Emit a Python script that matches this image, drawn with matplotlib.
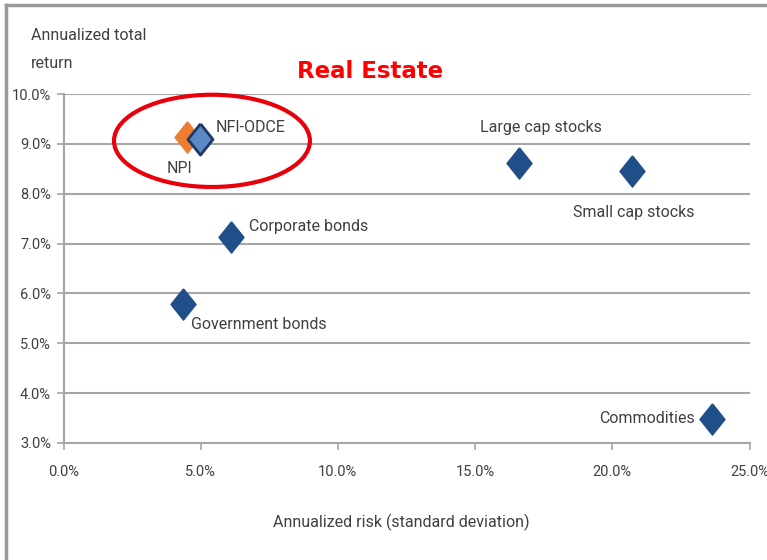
import matplotlib
matplotlib.use("Agg")
import matplotlib.pyplot as plt
from matplotlib.patches import Ellipse
from matplotlib.lines import Line2D
from matplotlib.ticker import FuncFormatter

# data (annualized risk %, annualized return %)
names = ['NPI', 'NFI-ODCE', 'Large cap stocks', 'Small cap stocks',
         'Corporate bonds', 'Government bonds', 'Commodities']
risk = [4.50, 4.97, 16.60, 20.70, 6.10, 4.35, 23.65]
ret = [9.14, 9.10, 8.62, 8.46, 7.13, 5.79, 3.48]
x_ticks = [0, 5, 10, 15, 20, 25]
y_ticks = [3, 4, 5, 6, 7, 8, 9, 10]

FONT = ['Roboto', 'DejaVu Sans']
TXT = '#404040'
GRID = '#a6a6a6'
LBL = 11.5

fig = plt.figure(figsize=(7.67, 5.60), dpi=100)
W, H = 767, 560
ax = fig.add_axes([63.5 / W, 1 - 443 / H, (749.5 - 63.5) / W, (443 - 94) / H])

# diamond a bit taller than wide
diamond = [(0, 1), (0.8, 0), (0, -1), (-0.8, 0), (0, 1)]

# marker styles per point
face = {'NPI': '#ed7d31', 'NFI-ODCE': '#5a8ac6'}
edge = {'NPI': '#ed7d31', 'NFI-ODCE': '#1f3864'}
for n, x, y in zip(names, risk, ret):
    ax.plot(x, y, marker=diamond, markersize=22.5,
            markerfacecolor=face.get(n, '#1f4e89'),
            markeredgecolor=edge.get(n, '#1f4e89'),
            markeredgewidth=2 if n == 'NFI-ODCE' else 1,
            linestyle='none', zorder=3, clip_on=False)

# label offsets (pixels) and alignment
lab = {
    'NPI': (-7, -32, 'center'),
    'NFI-ODCE': (16, 11, 'left'),
    'Large cap stocks': (22, 35, 'center'),
    'Small cap stocks': (2, -42, 'center'),
    'Corporate bonds': (18, 11, 'left'),
    'Government bonds': (8, -21, 'left'),
    'Commodities': (-18, 1, 'right'),
}
for n, x, y in zip(names, risk, ret):
    dx, dy, ha = lab[n]
    ax.annotate(n, (x, y), xytext=(dx, dy), textcoords='offset pixels',
                ha=ha, va='center', fontsize=LBL, color=TXT, family=FONT)

ax.set_xlim(0, 25)
ax.set_ylim(3, 10)
ax.set_xticks(x_ticks)
ax.set_yticks(y_ticks)
ax.xaxis.set_major_formatter(FuncFormatter(lambda v, p: f'{v:.1f}%'))
ax.yaxis.set_major_formatter(FuncFormatter(lambda v, p: f'{v:.1f}%'))
ax.grid(axis='y', color=GRID, linewidth=1.5)
ax.set_axisbelow(True)
for s in ['top', 'right']:
    ax.spines[s].set_visible(False)
for s in ['left', 'bottom']:
    ax.spines[s].set_color(GRID)
    ax.spines[s].set_linewidth(1.5)
ax.tick_params(axis='both', colors=GRID, length=5, width=1.2,
               labelcolor=TXT, labelsize=10.5)
ax.tick_params(axis='x', pad=11)
ax.tick_params(axis='y', pad=4)
for t in ax.get_xticklabels() + ax.get_yticklabels():
    t.set_family(FONT)

# red ellipse around the real estate indices
ax.add_patch(Ellipse((5.41, 9.06), 7.14, 1.85, fill=False, edgecolor='#e8000b',
                     linewidth=3, clip_on=False, zorder=4))

fig.text(31 / W, 1 - 36 / H, 'Annualized total', ha='left', va='center',
         fontsize=LBL, color=TXT, family=FONT)
fig.text(31 / W, 1 - 64 / H, 'return', ha='left', va='center',
         fontsize=LBL, color=TXT, family=FONT)
fig.text(370 / W, 1 - 72 / H, 'Real Estate', ha='center', va='center',
         fontsize=16.5, fontweight='bold', color='#ff0000', family='DejaVu Sans')
fig.text(401 / W, 1 - 522 / H, 'Annualized risk (standard deviation)',
         ha='center', va='center', fontsize=LBL, color=TXT, family=FONT)

# frame lines at the left and top of the picture
fig.add_artist(Line2D([6 / W, 6 / W], [0, 1 - 5 / H], color='#999999', linewidth=2.5))
fig.add_artist(Line2D([6 / W, 1], [1 - 5 / H, 1 - 5 / H], color='#999999', linewidth=2.5))

fig.savefig('out.png', dpi=100)
